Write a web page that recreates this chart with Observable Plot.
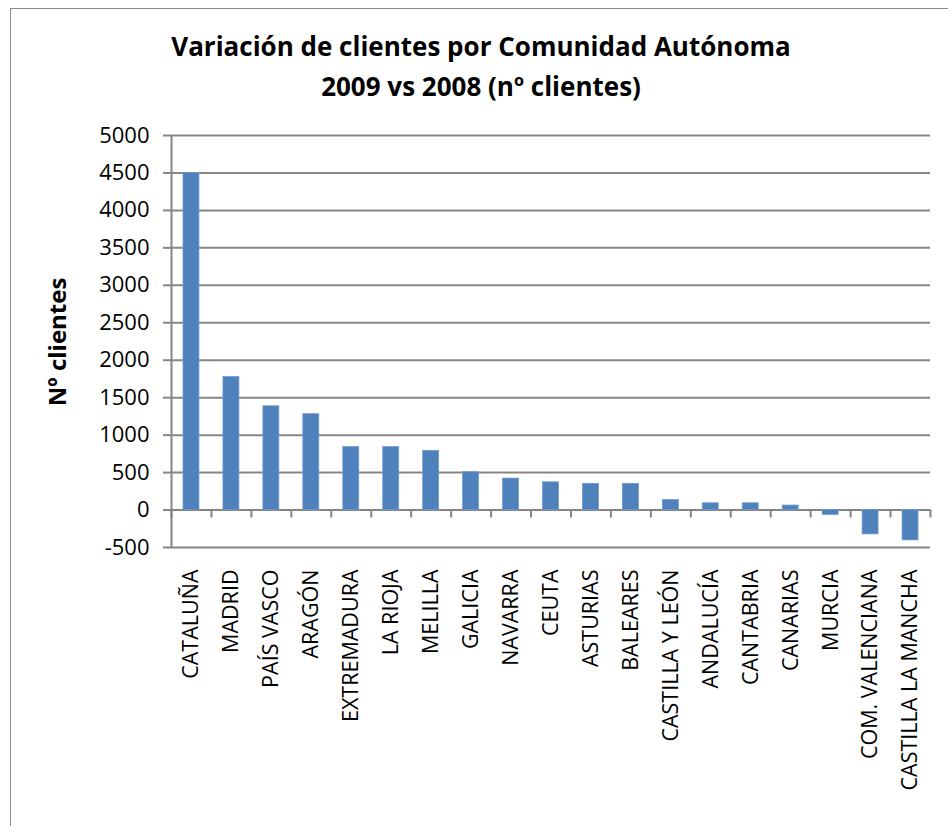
<!DOCTYPE html>
<html>
<head>
<meta charset="utf-8">
<script src="https://cdn.jsdelivr.net/npm/d3@7"></script>
<script src="https://cdn.jsdelivr.net/npm/@observablehq/plot@0.6"></script>
<style>
  html, body { margin: 0; padding: 0; background: #fff; overflow: hidden; }
  #page { position: relative; width: 948px; height: 826px; overflow: hidden; }
  #border { position: absolute; left: 10px; top: 8px; width: 1000px; height: 900px; border: 1px solid #8c8c8c; box-sizing: border-box; }
  #title { position: absolute; left: 0; top: 26px; width: 962px; text-align: center;
    font-family: "Liberation Sans Narrow", "Open Sans", sans-serif; font-weight: bold; font-size: 26px; line-height: 40px; color: #000; }
  #chart { position: absolute; left: 0; top: 110px; }
</style>
</head>
<body>
<div id="page">
  <div id="border"></div>
  <div id="title">Variación de clientes por Comunidad Autónoma<br>2009 vs 2008 (nº clientes)</div>
  <div id="chart"></div>
</div>
<script>
const categories = ["CATALUÑA","MADRID","PAÍS VASCO","ARAGÓN","EXTREMADURA","LA RIOJA","MELILLA","GALICIA","NAVARRA","CEUTA","ASTURIAS","BALEARES","CASTILLA Y LEÓN","ANDALUCÍA","CANTABRIA","CANARIAS","MURCIA","COM. VALENCIANA","CASTILLA LA MANCHA"];
const values = [4500, 1775, 1385, 1280, 840, 840, 790, 505, 420, 370, 350, 350, 135, 90, 90, 60, -65, -325, -405];
const yTicks = [-500, 0, 500, 1000, 1500, 2000, 2500, 3000, 3500, 4000, 4500, 5000];
const yLabel = "Nº clientes";

const data = categories.map((c, i) => ({cat: c, value: values[i]}));
const grey = "#868686";
const font = "'Open Sans', sans-serif";
const halfStep = (948 - 171 - 18) / categories.length / 2;

const chart = Plot.plot({
  width: 948,
  height: 716,
  marginLeft: 171,
  marginRight: 18,
  marginTop: 25,
  marginBottom: 279,
  style: {fontFamily: font, fontSize: "21px", color: "#000", background: "transparent"},
  x: {domain: categories, padding: 0, round: false},
  y: {domain: [-500, 5000]},
  marks: [
    Plot.ruleY(yTicks, {stroke: grey, strokeWidth: 2}),
    Plot.ruleX([categories[0]], {dx: -halfStep, stroke: grey, strokeWidth: 2}),
    Plot.ruleX(categories, {x: d => d, dx: -halfStep, y1: 0, y2: -107, stroke: grey, strokeWidth: 2}),
    Plot.ruleX([categories[categories.length - 1]], {dx: halfStep, y1: 0, y2: -107, stroke: grey, strokeWidth: 2}),
    Plot.barY(data, {x: "cat", y: "value", insetLeft: 12, insetRight: 12, fill: "#4f81bd", stroke: "#6f9ad0", strokeWidth: 0.8}),
    Plot.axisY({ticks: yTicks, tickSize: 8, tickPadding: 14, stroke: grey, strokeWidth: 2, label: null, tickFormat: d => String(d), fontSize: 22}),
    Plot.axisX({tickSize: 0, tickRotate: -90, tickPadding: 22, label: null, fontSize: 21.5}),
    Plot.text([{v: 2245}], {y: "v", frameAnchor: "left", textAnchor: "middle", rotate: -90, dx: -113, fontWeight: "bold", fontSize: 24, text: () => yLabel})
  ]
});
document.getElementById("chart").appendChild(chart);
</script>
</body>
</html>
